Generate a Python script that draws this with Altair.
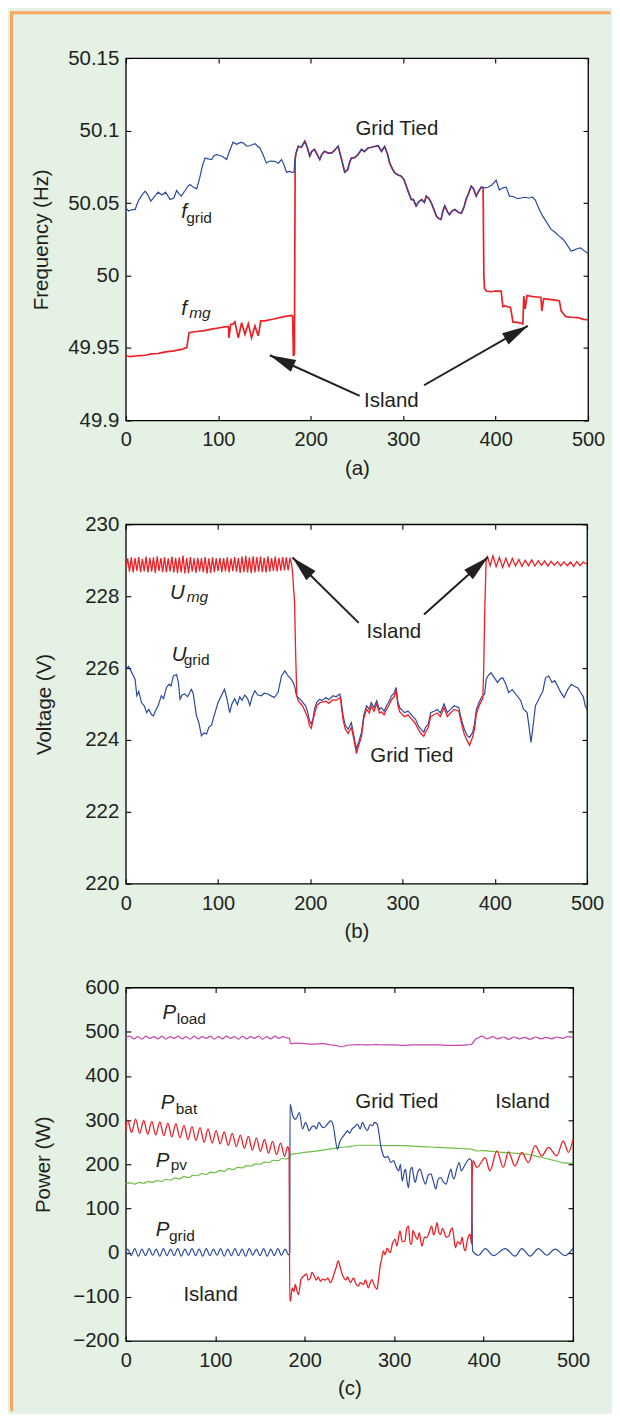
import altair as alt
import pandas as pd

# ---------------------------------------------------------------- style
FONT = "Liberation Sans"
INK = "#231f20"
BLUE = "#2b4a9f"
RED = "#ee1f25"
MAGENTA = "#c245ae"
GREEN = "#6dbd45"
BG = "#e4f1e4"
ORANGE = "#f6a65e"

# ---------------------------------------------------------------- ticks
X_TICKS = [0, 100, 200, 300, 400, 500]
FREQ_TICKS = [49.9, 49.95, 50.0, 50.05, 50.1, 50.15]
VOLT_TICKS = [220, 222, 224, 226, 228, 230]
POW_TICKS = [-200, -100, 0, 100, 200, 300, 400, 500, 600]

# ---------------------------------------------------------------- (a) frequency
FGRID_T = [0, 3, 7, 10, 14, 18, 21, 24, 27, 31,
           35, 39, 43, 48, 52, 55, 58, 60, 64, 67,
           69.5, 73, 76.7, 80, 83, 85.7, 89, 92.9, 95, 98,
           101, 105, 109, 112, 116, 120, 124, 127, 130, 132,
           136, 139.7, 142, 145, 148, 152, 156, 161, 165, 168.5,
           171, 173.8, 177, 181, 182, 182.8, 184, 186.5, 190, 193.6,
           196, 199, 201, 204, 207, 209.8, 212, 215, 219, 222.5,
           226, 229.7, 233, 236.8, 240, 242, 244, 248, 251, 255,
           258, 262, 266, 269, 273, 276.6, 280, 283, 285.4, 288,
           290.8, 294, 298, 301, 303.5, 306, 308.8, 311, 314, 317,
           320, 323, 325, 328, 330.5, 333, 336, 338, 341, 343,
           345, 348, 350, 353, 356, 360, 363, 366, 368, 371,
           373.6, 376, 379, 382, 384.5, 388, 391.7, 396, 400.6, 404,
           408, 411.4, 415, 419, 424, 428, 431, 436, 440, 443,
           445.6, 448, 451, 455, 460, 464, 469, 472, 474.7, 478,
           481.6, 485, 488, 492, 496, 500]
FGRID_V = [50.0467, 50.0445, 50.0455, 50.0455, 50.052, 50.056, 50.0582, 50.0555, 50.0513, 50.0545,
           50.0575, 50.0555, 50.0575, 50.0524, 50.0535, 50.0586, 50.056, 50.0548, 50.0585, 50.0615,
           50.0628, 50.061, 50.0598, 50.0675, 50.076, 50.0811, 50.0805, 50.080, 50.0825, 50.0834,
           50.083, 50.082, 50.080, 50.0855, 50.092, 50.0905, 50.0918, 50.0915, 50.0895, 50.0892,
           50.090, 50.091, 50.0895, 50.088, 50.084, 50.0777, 50.079, 50.0788, 50.0775, 50.080,
           50.0765, 50.0713, 50.0718, 50.071, 50.0715, 50.0788, 50.084, 50.0892, 50.0885, 50.0926,
           50.089, 50.0823, 50.0855, 50.087, 50.0835, 50.080, 50.0835, 50.0857, 50.0845, 50.0845,
           50.0865, 50.0892, 50.0811, 50.0713, 50.073, 50.078, 50.081, 50.0815, 50.0834, 50.087,
           50.0855, 50.088, 50.0885, 50.089, 50.0896, 50.0857, 50.089, 50.084, 50.0777, 50.074,
           50.071, 50.0695, 50.0685, 50.066, 50.0616, 50.057, 50.0524, 50.0525, 50.048, 50.051,
           50.0524, 50.0505, 50.0548, 50.053, 50.050, 50.046, 50.041, 50.0395, 50.0387, 50.0445,
           50.048, 50.044, 50.042, 50.0445, 50.0455, 50.0435, 50.043, 50.0475, 50.0524, 50.057,
           50.0616, 50.060, 50.0548, 50.0585, 50.061, 50.0605, 50.0609, 50.0625, 50.0658, 50.059,
           50.0605, 50.061, 50.0548, 50.0545, 50.053, 50.0535, 50.054, 50.0535, 50.054, 50.052,
           50.048, 50.0445, 50.041, 50.037, 50.0318, 50.030, 50.027, 50.0255, 50.0238, 50.0205,
           50.0169, 50.0175, 50.0185, 50.019, 50.017, 50.0152]

FMG_T1 = [0, 5, 10, 15, 21, 28, 35, 38.9, 45, 52,
          60, 65.9, 67, 68.4, 75, 85, 92.9, 100, 109, 111,
          111.6, 113.5, 116, 118, 121.7, 125.3, 128.9, 132.5, 136, 139.7,
          143.3, 146, 150, 160, 170, 179, 180.5, 181.3, 182.4, 183.2]
FMG_V1 = [49.9445, 49.944, 49.9445, 49.9448, 49.945, 49.946, 49.9462, 49.9468, 49.9475, 49.948,
          49.949, 49.9503, 49.9545, 49.9606, 49.9612, 49.962, 49.963, 49.9638, 49.9647, 49.9648,
          49.957, 49.9663, 49.9665, 49.968, 49.957, 49.9674, 49.9595, 49.9667, 49.957, 49.9652,
          49.9583, 49.9687, 49.9687, 49.970, 49.9715, 49.9725, 49.972, 49.9445, 49.946, 50.080]
FMG_T2 = [386.5, 387.3, 388, 390, 395, 400, 406, 407.9, 410, 416,
          417.5, 418.7, 425, 429.5, 430.5, 432, 434, 440, 445, 449,
          450, 452, 458, 465, 469, 471, 473, 476, 482, 489,
          495, 500]
FMG_V2 = [50.0608, 50.000, 49.991, 49.9893, 49.9888, 49.9893, 49.9893, 49.9785, 49.979, 49.978,
          49.973, 49.968, 49.9675, 49.9667, 49.9858, 49.977, 49.9862, 49.9855, 49.9852, 49.985,
          49.9755, 49.984, 49.9835, 49.983, 49.9824, 49.9755, 49.974, 49.9716, 49.9712, 49.971,
          49.9698, 49.9695]
# while grid tied, f_mg is the grid frequency read above
TIED_A = [(t, v) for t, v in zip(FGRID_T, FGRID_V) if 184 <= t <= 385]
FMG_T = FMG_T1 + [p[0] for p in TIED_A] + FMG_T2
FMG_V = FMG_V1 + [p[1] for p in TIED_A] + FMG_V2

# ---------------------------------------------------------------- (b) voltage
UMG_T1 = [0, 2, 4, 6, 8, 10, 12, 14, 16, 18,
          20, 22, 24, 26, 28, 30, 32, 34, 36, 38,
          40, 42, 44, 46, 48, 50, 52, 54, 56, 58,
          60, 62, 64, 66, 68, 70, 72, 74, 76, 78,
          80, 82, 84, 86, 88, 90, 92, 94, 96, 98,
          100, 102, 104, 106, 108, 110, 112, 114, 116, 118,
          120, 122, 124, 126, 128, 130, 132, 134, 136, 138,
          140, 142, 144, 146, 148, 150, 152, 154, 156, 158,
          160, 162, 164, 166, 168, 170, 172, 174, 176, 178,
          180]
UMG_V1 = [228.78, 229.05, 228.68, 229.08, 228.66, 229.06, 228.70, 229.09, 228.67, 229.04,
          228.69, 229.10, 228.66, 229.07, 228.68, 229.08, 228.65, 229.11, 228.70, 229.06,
          228.67, 229.09, 228.66, 229.05, 228.69, 229.10, 228.66, 229.07, 228.64, 229.08,
          228.66, 229.13, 228.63, 229.06, 228.64, 229.09, 228.68, 229.05, 228.65, 229.07,
          228.69, 229.06, 228.66, 229.09, 228.63, 229.05, 228.65, 229.08, 228.67, 229.05,
          228.70, 229.07, 228.67, 229.06, 228.69, 229.08, 228.66, 229.05, 228.70, 229.09,
          228.68, 229.06, 228.65, 229.10, 228.67, 229.12, 228.66, 229.08, 228.64, 229.11,
          228.66, 229.09, 228.68, 229.10, 228.67, 229.07, 228.66, 229.11, 228.68, 229.06,
          228.70, 229.10, 228.69, 229.07, 228.71, 229.09, 228.72, 229.08, 228.72, 229.07,
          228.85]
UMG_T2 = [181, 182, 182.5, 183, 184, 185.4, 186.9, 190, 192, 197.3,
          199, 201, 204.5, 207, 210, 217, 220, 224.6, 228, 232,
          233, 235.6, 238, 241, 244.5, 247, 250, 252, 255.5, 258,
          261, 264, 266, 269, 272, 275, 277, 280, 282.6, 285,
          288, 291, 293, 295, 297, 302, 306, 309, 312, 314,
          317, 320, 323, 325, 328, 330.5, 334, 337.6, 341, 345,
          348.5, 352, 356, 361, 364, 367, 370, 372.6, 376, 378,
          380, 383, 385.5, 387, 388, 389, 390.7]
UMG_V2 = [228.60, 228.15, 228.05, 227.80, 226.50, 225.23, 225.08, 225.00, 224.93, 224.62,
          224.40, 224.32, 224.72, 224.95, 225.03, 225.08, 225.02, 225.12, 225.10, 225.18,
          225.08, 224.55, 224.30, 224.18, 224.35, 224.05, 223.62, 223.80, 224.10, 224.60,
          224.85, 224.75, 224.95, 224.80, 225.00, 224.75, 224.78, 224.70, 224.85, 224.95,
          225.12, 225.20, 225.40, 224.95, 224.78, 224.65, 224.70, 224.60, 224.52, 224.45,
          224.30, 224.18, 224.10, 224.22, 224.35, 224.65, 224.70, 224.75, 224.65, 224.90,
          224.65, 224.75, 224.85, 224.80, 224.45, 224.15, 223.98, 223.85, 224.08, 224.30,
          224.72, 224.95, 225.08, 225.15, 226.00, 227.50, 229.06]
UMG_T3 = [392, 395, 398, 401.5, 405, 408.5, 412, 415.5, 419, 422.5,
          426, 429.5, 433, 436.5, 440, 443.5, 447, 450.5, 454, 457.5,
          461, 464.5, 468, 471.5, 475, 478.5, 482, 485.5, 489, 492.5,
          496, 500]
UMG_V3 = [229.10, 228.85, 229.12, 228.82, 229.08, 228.80, 229.06, 228.82, 229.05, 228.84,
          229.02, 228.83, 229.00, 228.85, 229.01, 228.84, 228.99, 228.86, 228.98, 228.84,
          228.97, 228.86, 228.96, 228.84, 228.96, 228.85, 228.95, 228.83, 228.96, 228.85,
          228.95, 228.88]
UMG_T = UMG_T1 + UMG_T2 + UMG_T3
UMG_V = UMG_V1 + UMG_V2 + UMG_V3

UGRID_T = [0, 1.5, 3, 5, 7, 10, 12, 14, 17, 20,
           22.7, 25, 28, 30, 32, 35, 38.5, 41, 44, 47,
           49, 51.6, 55, 57, 58.8, 61, 64, 67, 71, 73,
           75, 76.6, 79, 82, 85, 87.5, 90, 93, 96, 100,
           103, 107, 110, 112.6, 115, 118, 121, 123.5, 126, 129,
           132, 134.5, 137, 140, 143, 147, 150, 154, 158, 161,
           165, 168.8, 172.4, 176, 179, 181.5, 183, 185, 186.9, 190,
           192, 195, 197.3, 199, 201, 203, 204.5, 207, 210, 213,
           217, 220, 224.6, 228, 232, 233, 235.6, 238, 241, 244.5,
           247, 250, 252, 255.5, 258, 261, 264, 266, 269, 272,
           275, 277, 280, 282.6, 285, 288, 291, 293, 295, 297,
           302, 306, 309, 312, 314, 317, 320, 323, 325, 328,
           330.5, 334, 337.6, 341, 345, 348.5, 352, 356, 361, 364,
           367, 370, 372.6, 376, 378, 380, 383, 385.5, 389, 390.7,
           393, 396, 399, 403, 406, 408.6, 412, 415, 419, 424,
           428, 431, 435, 437, 439.3, 442, 444, 447, 449.5, 452,
           455, 458.5, 462, 465, 468, 471, 475, 479, 483, 486,
           490, 493, 496, 498, 500]
UGRID_V = [226.06, 226.00, 226.05, 225.95, 225.85, 225.69, 225.23, 225.35, 225.04, 224.95,
           224.76, 224.85, 224.70, 224.67, 224.80, 224.95, 225.23, 225.15, 225.46, 225.55,
           225.50, 225.78, 225.82, 225.60, 225.13, 225.25, 225.28, 225.20, 225.41, 225.30,
           224.95, 224.67, 224.50, 224.12, 224.20, 224.16, 224.35, 224.42, 224.70, 225.04,
           225.20, 225.41, 225.10, 224.76, 225.00, 225.15, 224.98, 225.20, 225.10, 225.25,
           225.15, 224.96, 225.20, 225.37, 225.25, 225.23, 225.30, 225.28, 225.22, 225.18,
           225.32, 225.78, 225.92, 225.78, 225.70, 225.60, 225.50, 225.23, 225.18, 225.10,
           225.04, 224.95, 224.76, 224.55, 224.44, 224.60, 224.85, 225.05, 225.13, 225.10,
           225.18, 225.12, 225.23, 225.20, 225.28, 225.18, 224.67, 224.40, 224.30, 224.48,
           224.15, 223.75, 223.90, 224.21, 224.70, 224.95, 224.85, 225.04, 224.90, 225.09,
           224.85, 224.90, 224.80, 224.95, 225.05, 225.23, 225.30, 225.46, 225.05, 224.90,
           224.76, 224.80, 224.72, 224.62, 224.58, 224.40, 224.30, 224.22, 224.35, 224.45,
           224.76, 224.80, 224.85, 224.75, 225.00, 224.76, 224.85, 224.95, 224.90, 224.55,
           224.30, 224.12, 224.07, 224.21, 224.45, 224.85, 225.05, 225.18, 225.28, 225.69,
           225.80, 225.87, 225.75, 225.60, 225.70, 225.73, 225.55, 225.32, 225.40, 225.23,
           225.10, 224.86, 224.76, 224.40, 223.93, 224.50, 224.95, 225.10, 225.23, 225.35,
           225.73, 225.78, 225.60, 225.65, 225.50, 225.35, 225.18, 225.40, 225.55, 225.50,
           225.45, 225.32, 225.20, 224.95, 224.85]

# ---------------------------------------------------------------- (c) power
PLOAD_T = [0, 4.5, 9, 13.5, 18, 22.5, 27, 31.5, 36, 40.5,
           45, 49.5, 54, 58.5, 63, 67.5, 72, 76.5, 81, 85.5,
           90, 94.5, 99, 103.5, 108, 112.5, 117, 121.5, 126, 130.5,
           135, 139.5, 144, 148.5, 153, 157.5, 162, 166.5, 171, 175.5,
           180, 183, 184, 190, 200, 210, 220, 230, 235, 240,
           245, 250, 260, 270, 280, 290, 300, 310, 320, 330,
           340, 350, 360, 370, 380, 386, 388, 391, 394, 398,
           404, 410, 416, 422, 428, 434, 440, 446, 452, 458,
           464, 470, 476, 482, 488, 494, 500]
PLOAD_V = [487, 490, 484, 489, 483, 490, 485, 489, 484, 490,
           483, 489, 485, 490, 484, 489, 483, 490, 484, 489,
           485, 490, 483, 489, 484, 490, 485, 489, 483, 490,
           484, 489, 485, 490, 483, 489, 484, 490, 485, 489,
           486, 485, 473, 474, 473, 472, 473, 470, 469, 466,
           468, 470, 471, 470, 471, 470, 470, 469, 470, 470,
           470, 470, 469, 469, 470, 471, 475, 483, 486, 490,
           484, 489, 484, 488, 483, 488, 484, 487, 483, 488,
           484, 487, 484, 488, 485, 489, 487]

PBAT_T = [0, 2, 6.5, 11, 15.5, 20, 24.5, 29, 33.5, 38,
          42.5, 47, 51.5, 56, 60.5, 65, 69.5, 74, 78.5, 83,
          87.5, 92, 96.5, 101, 105.5, 110, 114.5, 119, 123.5, 128,
          132.5, 137, 141.5, 146, 150.5, 155, 159.5, 164, 168.5, 173,
          177.5, 181, 182.5, 183.3, 184, 186, 188, 189.5, 191, 193,
          196, 199, 202, 204, 206.5, 208, 210, 213, 215, 217.6,
          220, 223, 226, 228.8, 231, 232.5, 235, 237.4, 240, 242,
          243.7, 246, 248, 251, 253, 254.7, 257, 260, 262, 265.6,
          268, 271, 273, 275, 278, 281, 282.5, 284.6, 286, 288,
          290, 292, 295.6, 298, 301, 303, 306.5, 309, 312, 314,
          316, 318, 319.5, 321, 323, 326, 328, 331, 334, 336.6,
          339, 342, 344, 346, 348, 350, 352, 354, 355.6, 358,
          361, 363, 365, 367, 368.6, 371, 374, 376, 378, 379.5,
          382, 385, 386.5, 387, 388, 392.5, 401.8, 407, 414.8, 422,
          427.8, 435, 442.7, 450, 457.6, 465, 472.4, 481.8, 489, 494.8,
          500]
PBAT_V = [276, 300, 272, 302, 270, 299, 268, 297, 266, 296,
          265, 293, 262, 292, 260, 288, 256, 285, 254, 283,
          250, 280, 248, 276, 246, 273, 243, 270, 240, 266,
          236, 263, 232, 259, 229, 256, 225, 252, 222, 248,
          218, 240, 228, -110, -110, -80, -88, -72, -84, -95,
          -60, -53, -48, -62, -57, -45, -50, -62, -55, -65,
          -60, -62, -58, -68, -60, -50, -35, -19, -35, -50,
          -57, -62, -55, -68, -62, -57, -70, -76, -68, -72,
          -62, -80, -70, -61, -75, -83, -60, -27, -15, 4,
          -5, 10, 0, 20, 30, 15, 49, 25, 26, 55,
          60, 20, 19, 50, 41, 30, 45, 15, 35, 34,
          45, 60, 40, 50, 68, 45, 41, 55, 49, 35,
          37, 50, 56, 30, 11, 25, 19, 35, 10, 4,
          30, 41, 20, 150, 208, 193, 215, 185, 230, 193,
          228, 196, 227, 204, 242, 219, 238, 219, 253, 227,
          257]

PPV_T = [0, 5, 10, 15, 20, 25, 30, 35, 40, 45,
         50, 55, 60, 65, 70, 75, 80, 85, 90, 95,
         100, 105, 110, 115, 120, 125, 130, 135, 140, 145,
         150, 155, 160, 165, 170, 175, 180, 183, 184, 190,
         200, 210, 220, 230, 240, 250, 260, 270, 280, 290,
         300, 310, 320, 330, 340, 350, 360, 370, 380, 387,
         392, 400, 410, 420, 430, 440, 450, 460, 470, 480,
         490, 500]
PPV_V = [155, 158, 155, 159, 157, 161, 159, 163, 161, 166,
         164, 169, 167, 172, 170, 175, 174, 179, 177, 182,
         181, 186, 184, 190, 188, 193, 192, 197, 196, 201,
         200, 205, 204, 209, 208, 213, 212, 214, 222, 224,
         227, 229, 232, 235, 238, 240, 243, 243, 243, 242,
         242, 242, 241, 240, 239, 238, 237, 236, 235, 234,
         230, 231, 229, 227, 226, 224, 222, 218, 213, 208,
         203, 202]

PGRID_T = [0, 2, 6, 10, 14, 18, 22, 26, 30, 34,
           38, 42, 46, 50, 54, 58, 62, 66, 70, 74,
           78, 82, 86, 90, 94, 98, 102, 106, 110, 114,
           118, 122, 126, 130, 134, 138, 142, 146, 150, 154,
           158, 162, 166, 170, 174, 178, 182, 183.3, 183.6, 186.6,
           190, 194, 197.6, 201, 205, 208, 210.6, 213, 216, 219,
           221.6, 225, 229, 232, 234, 236.6, 239, 242, 245, 247.8,
           250, 253, 256, 259, 262, 264.5, 267, 270, 273, 275.8,
           278, 281, 283, 285, 287, 290, 293, 296, 299.5, 302,
           305, 307, 309, 311, 312.6, 314.5, 316, 318, 320, 322,
           323.7, 326, 329, 332, 335, 338, 341, 344, 346.6, 349,
           352, 355, 358, 361, 363.5, 365, 367, 370, 372.8, 375,
           378.5, 381, 384, 386.6, 387.6, 394.4, 401.8, 411, 424, 435.3,
           442.7, 452, 461.3, 470.6, 479.9, 491, 500]
PGRID_V = [-3, 8, -7, 9, -8, 8, -7, 9, -6, 8,
           -8, 9, -7, 8, -7, 9, -8, 8, -6, 9,
           -7, 8, -8, 9, -7, 8, -6, 9, -8, 8,
           -7, 9, -7, 8, -8, 9, -6, 8, -7, 9,
           -8, 8, -7, 9, -6, 8, -5, 0, 336, 310,
           302, 317, 280, 295, 276, 285, 287, 280, 295, 285,
           283, 290, 298, 287, 260, 234, 250, 261, 268, 276,
           270, 280, 285, 291, 280, 295, 285, 276, 290, 287,
           295, 291, 270, 242, 225, 215, 218, 204, 208, 195,
           185, 200, 162, 180, 189, 160, 147, 185, 193, 170,
           159, 180, 189, 170, 155, 175, 178, 160, 144, 165,
           170, 160, 155, 175, 189, 175, 167, 190, 204, 185,
           196, 205, 212, 208, 4, -6, 9, -7, 9, -8,
           9, -8, 9, -6, 8, -7, 10]

# ---------------------------------------------------------------- annotations
A_TEXT = ["Grid Tied", "Island"]
A_TEXT_T = [293.2, 287.3]
A_TEXT_V = [50.1011, 49.9134]
A_SYM = ["f", "f"]
A_SYM_T = [59.9, 59.9]
A_SYM_V = [50.0398, 49.973]
A_SUB_UP = ["grid"]
A_SUB_UP_T = [65.3]
A_SUB_UP_V = [50.0364]
A_SUB_IT = ["mg"]
A_SUB_IT_T = [68.6]
A_SUB_IT_V = [49.9709]
A_ARR_T = [253.0, 322.6]
A_ARR_V = [49.917, 49.9243]
A_ARR_T2 = [155.8, 434.9]
A_ARR_V2 = [49.945, 49.9652]
A_ARR_ANG = [294.3, 60.3]

B_TEXT = ["Island", "Grid Tied"]
B_TEXT_T = [290.6, 310.0]
B_TEXT_V = [227.008, 223.546]
B_SYM = ["U", "U"]
B_SYM_T = [47.9, 49.8]
B_SYM_V = [227.909, 226.205]
B_SUB_IT = ["mg"]
B_SUB_IT_T = [66.0]
B_SUB_IT_V = [227.839]
B_SUB_UP = ["grid"]
B_SUB_UP_T = [62.8]
B_SUB_UP_V = [226.094]
B_ARR_T = [252.5, 323.3]
B_ARR_V = [227.258, 227.488]
B_ARR_T2 = [180.7, 392.5]
B_ARR_V2 = [229.078, 229.086]
B_ARR_ANG = [314.7, 48.0]

C_TEXT = ["Grid Tied", "Island", "Island"]
C_TEXT_T = [303.0, 443.6, 94.9]
C_TEXT_V = [340.4, 340.4, -96.0]
C_SYM = ["P", "P", "P", "P"]
C_SYM_T = [41.0, 39.1, 33.5, 33.5]
C_SYM_V = [529.0, 325.0, 194.0, 37.6]
C_SUB_UP = ["load", "bat", "pv", "grid"]
C_SUB_UP_T = [56.9, 55.8, 50.2, 48.3]
C_SUB_UP_V = [518.4, 314.3, 187.3, 26.3]

# ---------------------------------------------------------------- helpers
XSCALE = alt.Scale(domain=[0, 500], nice=False, zero=False)
HEAD = "M0,0L-1,4L1,4Z"


def main_x(title):
    return alt.Axis(orient="bottom", values=X_TICKS, ticks=False, tickSize=0, domain=False,
                    grid=False, labelFont=FONT, labelFontSize=20, labelColor=INK,
                    labelPadding=9.5, labelFlush=False, title=title, titleFont=FONT,
                    titleFontSize=20.5, titleFontWeight="normal", titleColor=INK,
                    titleY=54, titleBaseline="alphabetic")


def main_y(title, values, title_x, fmt):
    return alt.Axis(orient="left", values=values, format=fmt, ticks=False, tickSize=0,
                    domain=False, grid=False, labelFont=FONT, labelFontSize=20.5,
                    labelColor=INK, labelPadding=7, title=title, titleFont=FONT,
                    titleFontSize=20.5, titleFontWeight="normal", titleColor=INK,
                    titleX=title_x, titleAngle=270, titleBaseline="bottom")


def tick_axis(orient, values):
    return alt.Axis(orient=orient, values=values, offset=-5, labels=False, domain=False,
                    grid=False, ticks=True, tickSize=5, tickColor="#000000", tickWidth=1.1,
                    title=None)


def line(t, v, color, width, yscale, xaxis=None, yaxis=None, interp="linear"):
    df = pd.DataFrame({"t": t, "v": v})
    return alt.Chart(df).mark_line(color=color, strokeWidth=width, interpolate=interp).encode(
        x=alt.X("t:Q", scale=XSCALE, axis=xaxis),
        y=alt.Y("v:Q", scale=yscale, axis=yaxis),
    )


def text(labels, t, v, yscale, size, style, align, baseline, xaxis=None, yaxis=None):
    df = pd.DataFrame({"t": t, "v": v, "label": labels})
    return alt.Chart(df).mark_text(font=FONT, fontSize=size, fontStyle=style, align=align,
                                   baseline=baseline, color=INK).encode(
        x=alt.X("t:Q", scale=XSCALE, axis=xaxis),
        y=alt.Y("v:Q", scale=yscale, axis=yaxis),
        text="label:N",
    )


def arrows(t, v, t2, v2, ang, yscale):
    df = pd.DataFrame({"t": t, "v": v, "t2": t2, "v2": v2, "ang": ang})
    shaft = alt.Chart(df).mark_rule(color=INK, strokeWidth=2).encode(
        x=alt.X("t:Q", scale=XSCALE, axis=None),
        y=alt.Y("v:Q", scale=yscale, axis=None),
        x2="t2:Q", y2="v2:Q",
    )
    head = alt.Chart(df).mark_point(shape=HEAD, filled=True, size=169, color=INK,
                                    opacity=1).encode(
        x=alt.X("t2:Q", scale=XSCALE, axis=None),
        y=alt.Y("v2:Q", scale=yscale, axis=None),
        angle=alt.Angle("ang:Q", scale=None),
    )
    return [shaft, head]


# ---------------------------------------------------------------- panel (a)
YA = alt.Scale(domain=[49.9, 50.15], nice=False, zero=False)
frame_df = pd.DataFrame({"k": [0]})
# orange sidebar frame (left and top edges)
frame_v = alt.Chart(frame_df).mark_rule(color=ORANGE, strokeWidth=3, strokeCap="square").encode(
    x=alt.value(-114.5), y=alt.value(-45.5), y2=alt.value(1354))
frame_h = alt.Chart(frame_df).mark_rule(color=ORANGE, strokeWidth=3, strokeCap="square").encode(
    x=alt.value(-114.5), x2=alt.value(484), y=alt.value(-45.5))

panel_a = alt.layer(
    line(FMG_T, FMG_V, RED, 1.7, YA, tick_axis("bottom", X_TICKS), tick_axis("left", FREQ_TICKS)),
    line(FGRID_T, FGRID_V, BLUE, 1.2, YA, main_x("(a)"),
         main_y("Frequency (Hz)", FREQ_TICKS, -74, "~g")),
    text(A_TEXT, A_TEXT_T, A_TEXT_V, YA, 20.5, "normal", "center", "middle",
         tick_axis("top", X_TICKS), tick_axis("right", FREQ_TICKS)),
    text(A_SYM, A_SYM_T, A_SYM_V, YA, 20.5, "italic", "left", "alphabetic"),
    text(A_SUB_UP, A_SUB_UP_T, A_SUB_UP_V, YA, 15.5, "normal", "left", "alphabetic"),
    text(A_SUB_IT, A_SUB_IT_T, A_SUB_IT_V, YA, 15.5, "italic", "left", "alphabetic"),
    *arrows(A_ARR_T, A_ARR_V, A_ARR_T2, A_ARR_V2, A_ARR_ANG, YA),
    frame_v, frame_h,
).resolve_axis(x="independent", y="independent").properties(width=463, height=363)

# ---------------------------------------------------------------- panel (b)
YB = alt.Scale(domain=[220, 230], nice=False, zero=False)
panel_b = alt.layer(
    line(UGRID_T, UGRID_V, BLUE, 1.2, YB, main_x("(b)"),
         main_y("Voltage (V)", VOLT_TICKS, -71, "d")),
    line(UMG_T, UMG_V, RED, 1.3, YB, tick_axis("bottom", X_TICKS), tick_axis("left", VOLT_TICKS)),
    text(B_TEXT, B_TEXT_T, B_TEXT_V, YB, 20.5, "normal", "center", "middle",
         tick_axis("top", X_TICKS), tick_axis("right", VOLT_TICKS)),
    text(B_SYM, B_SYM_T, B_SYM_V, YB, 20.5, "italic", "left", "alphabetic"),
    text(B_SUB_IT, B_SUB_IT_T, B_SUB_IT_V, YB, 15.5, "italic", "left", "alphabetic"),
    text(B_SUB_UP, B_SUB_UP_T, B_SUB_UP_V, YB, 15.5, "normal", "left", "alphabetic"),
    *arrows(B_ARR_T, B_ARR_V, B_ARR_T2, B_ARR_V2, B_ARR_ANG, YB),
).resolve_axis(x="independent", y="independent").properties(width=462, height=360)

# ---------------------------------------------------------------- panel (c)
YC = alt.Scale(domain=[-200, 600], nice=False, zero=False)
panel_c = alt.layer(
    line(PLOAD_T, PLOAD_V, MAGENTA, 1.2, YC, main_x("(c)"),
         main_y("Power (W)", POW_TICKS, -72, "d"), interp="monotone"),
    line(PPV_T, PPV_V, GREEN, 1.2, YC, tick_axis("bottom", X_TICKS), tick_axis("left", POW_TICKS),
         interp="monotone"),
    line(PGRID_T, PGRID_V, BLUE, 1.2, YC, interp="monotone"),
    line(PBAT_T, PBAT_V, RED, 1.3, YC, interp="monotone"),
    text(C_TEXT, C_TEXT_T, C_TEXT_V, YC, 20.5, "normal", "center", "middle",
         tick_axis("top", X_TICKS), tick_axis("right", POW_TICKS)),
    text(C_SYM, C_SYM_T, C_SYM_V, YC, 20.5, "italic", "left", "alphabetic"),
    text(C_SUB_UP, C_SUB_UP_T, C_SUB_UP_V, YC, 15.5, "normal", "left", "alphabetic"),
).resolve_axis(x="independent", y="independent").properties(width=448, height=354)

chart = alt.vconcat(panel_a, panel_b, panel_c, spacing=104, bounds="flush").properties(
    background=BG, padding=0
).configure_view(stroke="#000000", strokeWidth=1.3, fill="white")

chart.save("out.html", embed_options={"renderer": "svg", "actions": False})
